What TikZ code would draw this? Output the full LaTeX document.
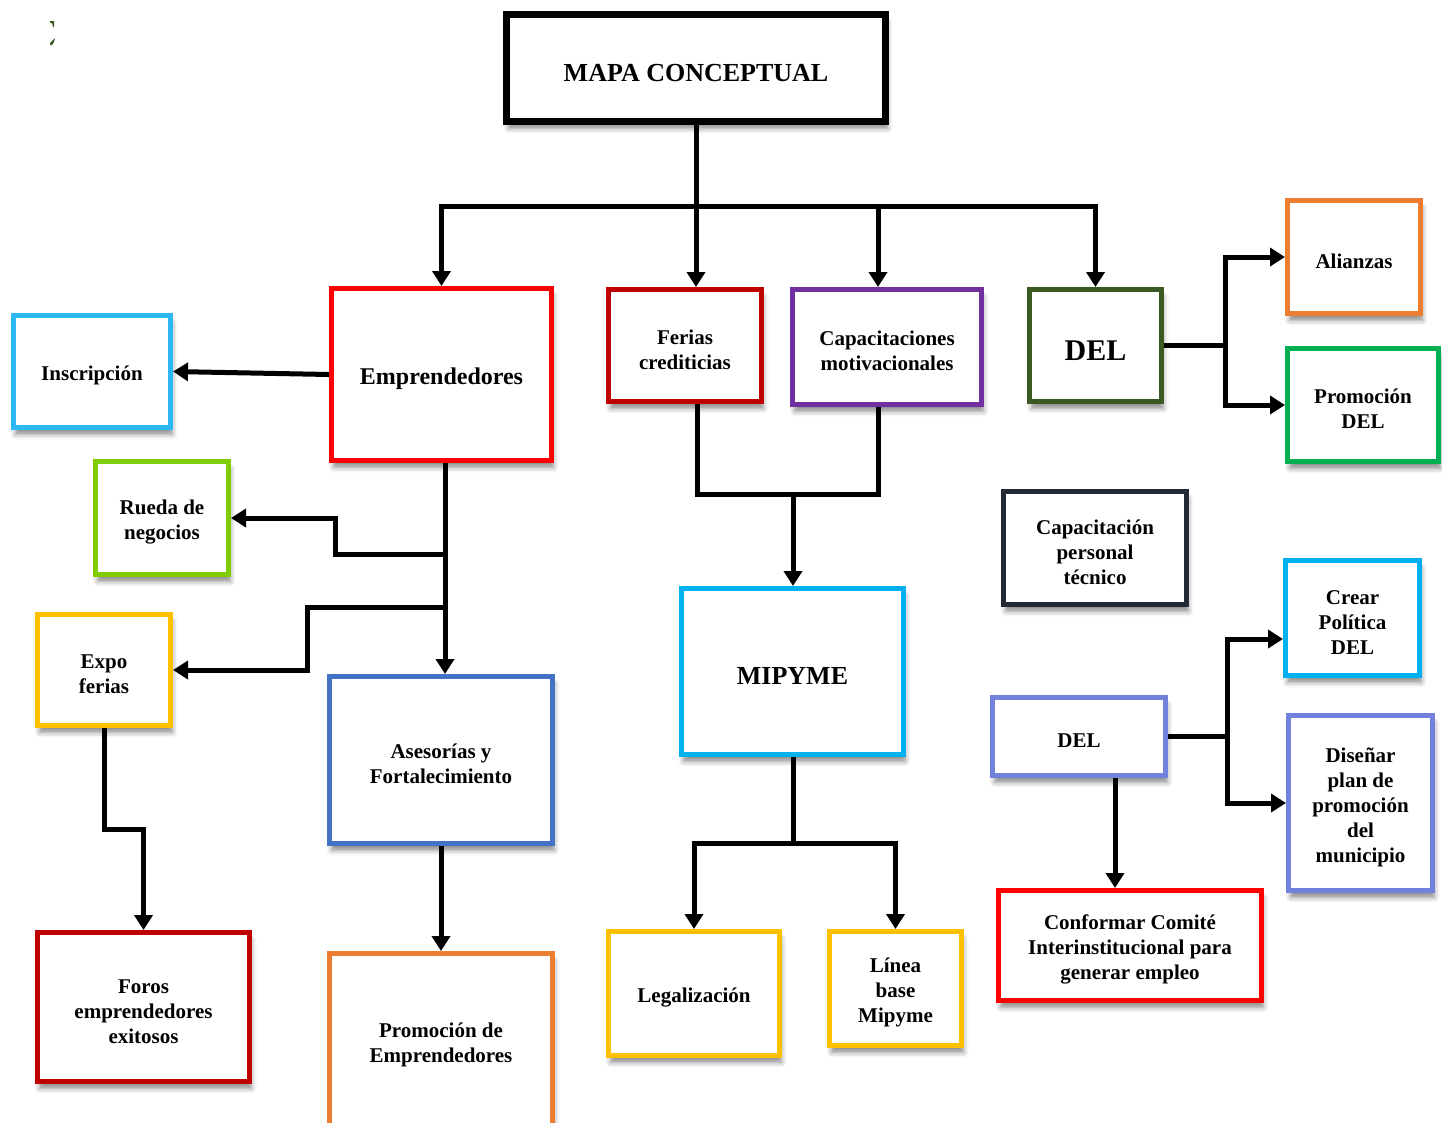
\documentclass[tikz,border=0pt]{standalone}
\usepackage{fontspec}
\setmainfont{Liberation Serif}
\usetikzlibrary{arrows.meta,shadows.blur}

\definecolor{cred}{HTML}{FF0000}
\definecolor{cdarkred}{HTML}{C00000}
\definecolor{cskyblue}{HTML}{2DB7F5}
\definecolor{cpurple}{HTML}{7030A0}
\definecolor{cdkgreen}{HTML}{3B5A23}
\definecolor{corange}{HTML}{ED7D31}
\definecolor{cgreen}{HTML}{00B050}
\definecolor{clime}{HTML}{80CC00}
\definecolor{cgold}{HTML}{FFC000}
\definecolor{cblue}{HTML}{4472C4}
\definecolor{ccyan}{HTML}{00B0F0}
\definecolor{cnavy}{HTML}{222A35}
\definecolor{cperi}{HTML}{7282DC}

% invisible strut that gives every first line the same ascent
\newcommand{\toprow}{\rule{0pt}{\dimexpr\ht\strutbox+5pt\relax}}

\begin{document}
\begin{tikzpicture}[x=1pt,y=-1pt,
  box/.style={draw, line width=5pt, fill=white, inner sep=0pt, align=center,
    font=\bfseries\fontsize{21}{25}\selectfont,
    blur shadow={shadow xshift=2pt, shadow yshift=-7pt, shadow blur radius=5pt, shadow opacity=45}},
  link/.style={line width=5pt, line join=miter},
  arr/.style={link, -{Triangle[length=15pt 0,width=18pt 0]}},
]
\useasboundingbox (0,0) rectangle (1442,1122);
\clip (0,0) rectangle (1442,1122);

% small mark in the corner
\fill[cdkgreen] (50,21) -- (54,21) -- (54,27) -- (53,27) -- (52,23) -- (50,23) -- cycle;
\fill[cdkgreen] (50,45) -- (50,43) -- (53,40) -- (55,38) -- (54,42) -- (52,45) -- cycle;

% title
\node[box, draw=black, line width=7pt, minimum width=379pt, minimum height=107pt,
  font=\bfseries\fontsize{26}{31}\selectfont] (mapa) at (696,68) {\toprow MAPA CONCEPTUAL};

% first level
\node[box, draw=cred, minimum width=220pt, minimum height=172pt,
  font=\bfseries\fontsize{24}{29}\selectfont] (empr) at (441.5,374.5) {\toprow Emprendedores};
\node[box, draw=cdarkred, minimum width=153pt, minimum height=112pt] (ferias) at (685,345.5) {\toprow Ferias\\crediticias};
\node[box, draw=cpurple, minimum width=189pt, minimum height=115pt] (capac) at (887,347) {\toprow Capacitaciones\\motivacionales};
\node[box, draw=cdkgreen, minimum width=132pt, minimum height=112pt,
  font=\bfseries\fontsize{30}{36}\selectfont] (del) at (1095.5,345.5) {\toprow DEL};

% Emprendedores branch
\node[box, draw=cskyblue, minimum width=157pt, minimum height=112pt] (insc) at (92,371.5) {\toprow Inscripción};
\node[box, draw=clime, minimum width=133pt, minimum height=113pt] (rueda) at (162,518) {\toprow Rueda de\\negocios};
\node[box, draw=cgold, minimum width=133pt, minimum height=111pt] (expo) at (104,670) {\toprow Expo\\ferias};
\node[box, draw=cblue, minimum width=223pt, minimum height=167pt] (ases) at (441,760) {\toprow Asesorías y\\Fortalecimiento};
\node[box, draw=cdarkred, minimum width=212pt, minimum height=149pt] (foros) at (143.5,1007) {\toprow Foros\\emprendedores\\exitosos};
\node[box, draw=corange, minimum width=223pt, minimum height=174pt] (promemp) at (441,1040.5) {\toprow Promoción de\\Emprendedores};

% MIPYME branch
\node[box, draw=ccyan, minimum width=222pt, minimum height=166pt,
  font=\bfseries\fontsize{26}{31}\selectfont] (mipyme) at (792.5,671.5) {\toprow MIPYME};
\node[box, draw=cgold, minimum width=171pt, minimum height=124pt] (legal) at (694,993.5) {\toprow Legalización};
\node[box, draw=cgold, minimum width=132pt, minimum height=114pt] (linea) at (895.5,988.5) {\toprow Línea\\base\\Mipyme};

% DEL branch
\node[box, draw=corange, minimum width=133pt, minimum height=113pt] (alia) at (1354,257) {\toprow Alianzas};
\node[box, draw=cgreen, minimum width=151pt, minimum height=113pt] (promdel) at (1363,405) {\toprow Promoción\\DEL};
\node[box, draw=cnavy, minimum width=183pt, minimum height=113pt] (cappt) at (1095,548) {\toprow Capacitación\\personal\\técnico};
\node[box, draw=ccyan, minimum width=134pt, minimum height=115pt] (crear) at (1352.5,618) {\toprow Crear\\Política\\DEL};
\node[box, draw=cperi, minimum width=173pt, minimum height=78pt] (del2) at (1079,736.5) {\toprow DEL};
\node[box, draw=cperi, minimum width=144pt, minimum height=175pt] (disenar) at (1360.5,803) {\toprow Diseñar\\plan de\\promoción\\del\\municipio};
\node[box, draw=cred, minimum width=263pt, minimum height=110pt] (conf) at (1130,945.5) {\toprow Conformar Comité\\Interinstitucional para\\generar empleo};

% connectors from the title
\coordinate (j0) at (696,206);
\coordinate (jc) at (878,206);
\draw[link] (mapa.south) -- (j0);
\draw[arr] (j0) -| (empr.north);
\draw[arr] (j0) -| (del.north);
\draw[arr] (j0) -- (j0 |- ferias.north);
\draw[arr] (jc) -- (jc |- capac.north);

% Emprendedores
\coordinate (e1) at (445,554);
\coordinate (e2) at (445,607);
\draw[arr] (empr.west) -- (insc.east);
\draw[arr] (empr.south -| e1) -- (e1 |- ases.north);
\draw[arr] (e1) -- (335,554) |- (rueda.east);
\draw[arr] (e2) -- (307,607) |- (expo.east);
\draw[arr] (expo.south) -- ++(0,101) -| (foros.north);
\draw[arr] (ases.south) -- (promemp.north);

% Ferias and Capacitaciones into MIPYME
\coordinate (f1) at (697,494);
\coordinate (f2) at (878,494);
\coordinate (m1) at (793,494);
\draw[link] (f1 |- ferias.south) -- (f1) -- (f2) -- (f2 |- capac.south);
\draw[arr] (m1) -- (m1 |- mipyme.north);

% MIPYME
\coordinate (m2) at (793,843);
\draw[link] (m2 |- mipyme.south) -- (m2);
\draw[arr] (m2) -| (legal.north);
\draw[arr] (m2) -| (linea.north);

% DEL
\coordinate (d1) at (1225,345.5);
\draw[link] (del.east) -- (d1);
\draw[arr] (d1) |- (alia.west);
\draw[arr] (d1) |- (promdel.west);

% second DEL
\coordinate (d2) at (1227,736.5);
\coordinate (c1) at (1115,800);
\draw[link] (del2.east) -- (d2);
\draw[arr] (d2) |- ([yshift=-21pt]crear.west);
\draw[arr] (d2) |- (disenar.west);
\draw[arr] (del2.south -| c1) -- (conf.north -| c1);
\end{tikzpicture}
\end{document}
